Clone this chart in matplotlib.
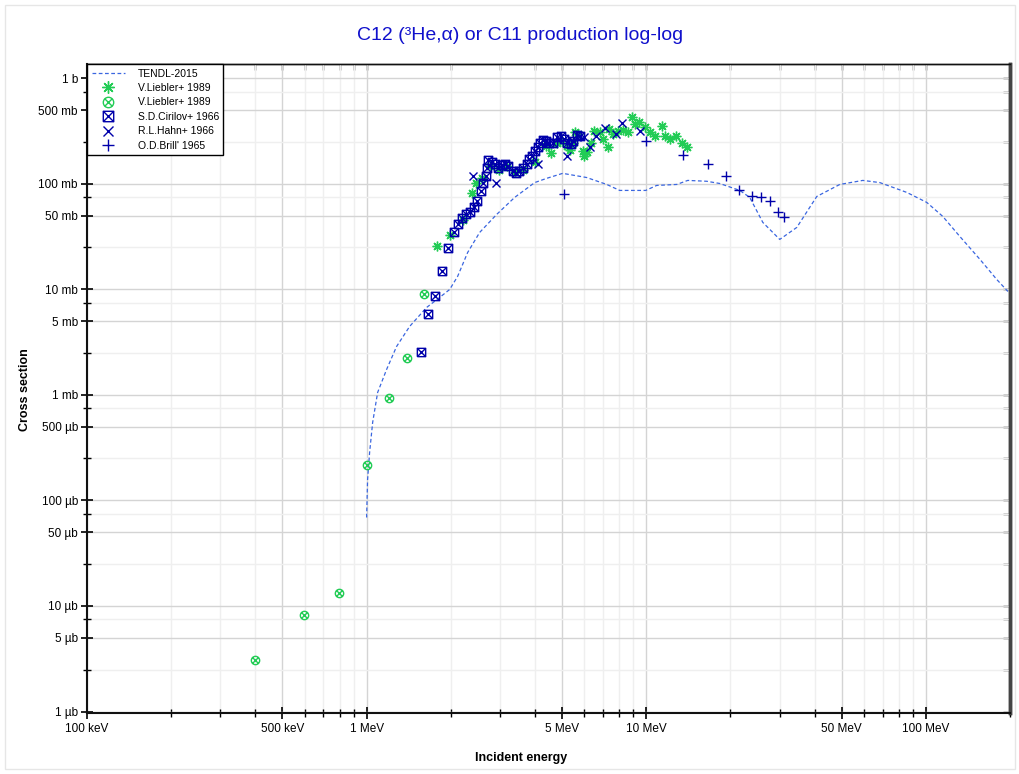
import numpy as np
import matplotlib
matplotlib.use('Agg')
import matplotlib.pyplot as plt
from matplotlib.path import Path
from matplotlib.ticker import FixedLocator, NullFormatter
from matplotlib.patches import Rectangle

plt.rcParams['font.family'] = ['Liberation Sans', 'DejaVu Sans']

# TENDL-2015 evaluation (energy in MeV, cross section in mb)
tendl_e = [1.000, 1.008, 1.025, 1.051, 1.095, 1.179, 1.280, 1.425, 1.639, 1.825, 1.982,
           2.116, 2.298, 2.537, 2.918, 3.384, 3.991, 4.406, 5.026, 6.125, 7.223, 8.039,
           9.959, 10.90, 12.86, 14.08, 16.46, 18.32, 21.61, 23.46, 26.12, 30.03, 34.55,
           40.74, 49.24, 59.52, 68.46, 85.51, 100.8, 115.0, 132.3, 156.1, 179.5, 196.6]
tendl_xs = [0.069, 0.158, 0.285, 0.549, 1.056, 1.745, 2.882, 4.46, 6.75, 8.40, 10.0,
            13.3, 22.4, 34.7, 51.4, 74.5, 103, 113, 126, 115, 98.9, 86.8,
            86.8, 96.8, 98.9, 108, 106, 101, 86.8, 74.5, 43.2, 29.8, 38.7,
            76.1, 98.9, 108, 103, 83.1, 66.8, 49.2, 31.8, 19.3, 12.4, 9.57]

# V.Liebler+ 1989 (asterisks)
lieb1_e = [1.780, 1.982, 2.205, 2.375, 2.455, 2.578, 2.755, 2.967, 3.169, 3.384, 3.615,
           3.991, 4.369, 4.553, 4.784, 4.985, 5.195, 5.325, 5.458, 5.549, 5.688, 5.926,
           5.974, 6.125, 6.331, 6.490, 6.818, 6.989, 7.283, 7.343, 7.589, 7.907, 8.240,
           8.587, 8.874, 9.097, 9.401, 9.877, 10.29, 10.72, 11.36, 11.65, 12.14, 12.75,
           13.40, 13.96]
lieb1_xs = [25.6, 32.5, 45.1, 81.3, 101, 113, 147, 137, 147, 131, 137,
            160, 227, 195, 247, 253, 227, 212, 247, 308, 295, 203,
            182, 199, 247, 315, 308, 264, 222, 329, 295, 315, 322,
            308, 427, 366, 383, 343, 308, 282, 351, 282, 264, 282,
            247, 222]

# V.Liebler+ 1989 (circled crosses)
lieb2_e = [0.40, 0.595, 0.794, 1.0, 1.2, 1.40, 1.60]
lieb2_xs = [0.00311, 0.0083, 0.0134, 0.219, 0.927, 2.26, 8.97]

# S.D.Cirilov+ 1966
ciri_e = [1.561, 1.653, 1.751, 1.855, 1.949, 2.048, 2.116, 2.187, 2.261, 2.336, 2.414,
          2.475, 2.558, 2.600, 2.666, 2.688, 2.710, 2.801, 2.871, 2.943, 3.041, 3.117,
          3.195, 3.330, 3.413, 3.499, 3.615, 3.737, 3.799, 3.894, 3.991, 4.091, 4.159,
          4.263, 4.369, 4.479, 4.629, 4.784, 4.944, 5.068, 5.195, 5.370, 5.458, 5.641,
          5.782]
ciri_xs = [2.58, 5.79, 8.58, 14.8, 24.5, 34.7, 41.3, 47.1, 51.4, 53.7, 59.9,
           68.3, 84.9, 103, 120, 143, 167, 163, 153, 143, 150, 156,
           147, 134, 128, 134, 143, 153, 171, 186, 203, 222, 247,
           259, 253, 242, 247, 276, 282, 264, 247, 237, 253, 288,
           282]

# R.L.Hahn+ 1966
hahn_e = [2.395, 2.894, 4.091, 5.195, 5.974, 6.279, 6.597, 7.105, 7.779, 8.175, 9.478]
hahn_xs = [118, 103, 156, 182, 276, 222, 282, 336, 295, 375, 315]

# O.D.Brill' 1965
brill_e = [5.07, 10.0, 13.5, 16.6, 19.3, 21.4, 23.9, 25.7, 27.7, 29.5, 31.0]
brill_xs = [79.5, 258, 190, 156, 120, 86.8, 76.1, 74.5, 68.3, 54.8, 48.1]

green = '#22cc55'
blue = '#0000aa'

# custom markers: circle with x, square with x
M, L = Path.MOVETO, Path.LINETO
d = np.sqrt(0.5)
xpath = Path([[-d, -d], [d, d], [-d, d], [d, -d]], [M, L, M, L])
otimes = Path.make_compound_path(Path.unit_circle(), xpath)
boxtimes = Path([[-1, -1], [1, -1], [1, 1], [-1, 1], [-1, -1],
                 [-1, -1], [1, 1], [-1, 1], [1, -1]],
                [M, L, L, L, L, M, L, M, L])

fig = plt.figure(figsize=(10.2, 7.74), dpi=100)
ax = fig.add_axes([87 / 1020, 1 - 713 / 774, (1010 - 87) / 1020, (713 - 64) / 774])

ax.plot(tendl_e, tendl_xs, ls=(0, (3, 2)), color='#3a66e0', lw=0.9, label='TENDL-2015', zorder=3)
ax.plot(lieb1_e, lieb1_xs, ls='none', marker=(8, 2, 0), ms=7, mew=1.0, color=green,
        label='V.Liebler+ 1989', zorder=4)
ax.plot(lieb2_e, lieb2_xs, ls='none', marker=otimes, ms=6, mew=1.0, mfc='none', mec=green,
        label='V.Liebler+ 1989', zorder=4)
ax.plot(ciri_e, ciri_xs, ls='none', marker=boxtimes, ms=6, mew=1.0, mfc='none', mec=blue,
        label='S.D.Cirilov+ 1966', zorder=5)
ax.plot(hahn_e, hahn_xs, ls='none', marker='x', ms=5.5, mew=1.0, color=blue,
        label='R.L.Hahn+ 1966', zorder=5)
ax.plot(brill_e, brill_xs, ls='none', marker='+', ms=7, mew=1.0, color=blue,
        label="O.D.Brill' 1965", zorder=5)

ax.set_xscale('log')
ax.set_yscale('log')
ax.set_xlim(0.1, 200)
ax.set_ylim(0.000968, 1370)

# ticks
x_major = [0.1, 0.5, 1, 5, 10, 50, 100]
x_labels = ['100 keV', '500 keV', '1 MeV', '5 MeV', '10 MeV', '50 MeV', '100 MeV']
x_minor = [m * 10.0 ** k for k in range(-1, 3) for m in (2, 3, 4, 6, 7, 8, 9)]
ax.xaxis.set_major_locator(FixedLocator(x_major))
ax.set_xticklabels(x_labels)
ax.xaxis.set_minor_locator(FixedLocator(x_minor))
ax.xaxis.set_minor_formatter(NullFormatter())

y_major = [1e-3, 5e-3, 1e-2, 5e-2, 0.1, 0.5, 1, 5, 10, 50, 100, 500, 1000]
y_labels = ['1 µb', '5 µb', '10 µb', '50 µb', '100 µb', '500 µb', '1 mb', '5 mb',
            '10 mb', '50 mb', '100 mb', '500 mb', '1 b']
y_minor = [m * 10.0 ** k for k in range(-3, 4) for m in (2.5, 7.5)]
ax.yaxis.set_major_locator(FixedLocator(y_major))
ax.set_yticklabels(y_labels)
ax.yaxis.set_minor_locator(FixedLocator(y_minor))
ax.yaxis.set_minor_formatter(NullFormatter())

ax.grid(which='major', color='#d4d4d4', lw=1.0)
ax.grid(which='minor', color='#efefef', lw=1.0)
ax.set_axisbelow(True)

ax.tick_params(which='both', labelsize=8.5, colors='black')
ax.tick_params(which='major', direction='inout', length=9, width=1.2, top=False, right=False)
ax.tick_params(which='minor', direction='inout', length=6, width=1.0, top=False, right=False)
ax.tick_params(axis='x', pad=3)
ax.tick_params(axis='y', pad=2)

# inward ticks on the top and right sides
top = ax.secondary_xaxis('top')
top.xaxis.set_major_locator(FixedLocator(x_major))
top.xaxis.set_minor_locator(FixedLocator(x_minor))
top.tick_params(which='both', direction='in', labeltop=False, length=4, width=1.0)
top.spines['top'].set_linewidth(1.0)
right = ax.secondary_yaxis('right')
right.yaxis.set_major_locator(FixedLocator(y_major))
right.yaxis.set_minor_locator(FixedLocator(y_minor))
right.tick_params(which='both', direction='in', labelright=False, length=5, width=1.0)
right.spines['right'].set_linewidth(2.5)
right.spines['right'].set_color('#444444')

for side in ('left', 'bottom'):
    ax.spines[side].set_linewidth(1.5)
    ax.spines[side].set_color('#111111')
ax.spines['top'].set_linewidth(1.0)
ax.spines['top'].set_color('#111111')
ax.spines['right'].set_linewidth(2.5)
ax.spines['right'].set_color('#444444')

leg = ax.legend(loc='upper left', fontsize=7.5, frameon=True, fancybox=False,
                borderaxespad=0, edgecolor='black', framealpha=1, handlelength=3.2,
                handletextpad=1.2, labelspacing=0.42, borderpad=0.45, markerscale=1.25)
leg.get_frame().set_linewidth(1.0)
leg.set_zorder(10)

fig.text(0.51, 1 - 36 / 774, 'C12 (³He,α) or C11 production log-log', ha='center', va='center',
         fontsize=14, color='#1010cc')
fig.text(25 / 1020, 1 - 390 / 774, 'Cross section', rotation=90, ha='center', va='center',
         fontsize=9, fontweight='bold')
fig.text(521 / 1020, 1 - 758 / 774, 'Incident energy', ha='center', va='center',
         fontsize=9, fontweight='bold')

fig.patches.append(Rectangle((5 / 1020, 5 / 774), 1010 / 1020, 764 / 774, transform=fig.transFigure,
                             fill=False, edgecolor='#e6e6e6', lw=1.0))

fig.savefig('out.png', dpi=100)
